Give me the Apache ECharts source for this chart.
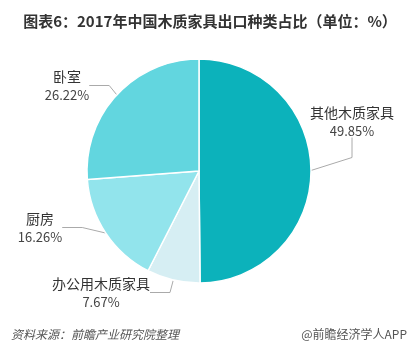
<!DOCTYPE html>
<html>
<head>
<meta charset="utf-8">
<script src="https://cdn.jsdelivr.net/npm/echarts@6/dist/echarts.min.js"></script>
<style>
  html, body { margin: 0; padding: 0; background: #fff; }
  #chart { width: 420px; height: 351px; }
</style>
</head>
<body>
<div id="chart"></div>
<script>
const categories = ['其他木质家具', '办公用木质家具', '厨房', '卧室']
const values = [49.85, 7.67, 16.26, 26.22]
const colors = ['#0cb2bb', '#d6eef3', '#92e4ec', '#62d6df']
// label anchor spots (center of the two-line label)
const labelSpots = [[352, 121], [101, 292], [40, 227], [67, 85]]

const chart = echarts.init(document.getElementById('chart'))

const option = {
  title: [
    {
      text: '图表6：2017年中国木质家具出口种类占比（单位：%）',
      left: 'center',
      top: 9,
      textStyle: { fontSize: 15, fontWeight: 'bold', color: '#333', fontFamily: 'Noto Sans CJK SC' }
    },
    {
      text: '资料来源：前瞻产业研究院整理',
      left: 6,
      top: 323,
      textStyle: { fontSize: 12, fontWeight: 'normal', fontStyle: 'italic', color: '#555', fontFamily: 'Noto Sans CJK SC' }
    },
    {
      text: '@前瞻经济学人APP',
      right: 8,
      top: 323,
      textStyle: { fontSize: 12, fontWeight: 'normal', color: '#555', fontFamily: 'Noto Sans CJK SC' }
    }
  ],
  series: [
    {
      type: 'pie',
      center: [199, 171],
      radius: 112,
      startAngle: 90,
      clockwise: true,
      itemStyle: { borderColor: '#fff', borderWidth: 1.5 },
      label: {
        formatter: '{n|{b}}\n{v|{c}%}',
        color: '#333',
        overflow: 'none',
        rich: {
          n: { fontSize: 14, color: '#333', lineHeight: 20, align: 'center', fontFamily: 'Noto Sans CJK SC' },
          v: { fontSize: 13, color: '#444', lineHeight: 17, align: 'center', fontFamily: 'Noto Sans CJK SC' }
        }
      },
      labelLine: {
        length: 12,
        length2: 20,
        lineStyle: { color: '#aaa', width: 1 }
      },
      labelLayout: function (params) {
        const p = labelSpots[params.dataIndex]
        return { x: p[0], y: p[1], align: 'center', verticalAlign: 'middle' }
      },
      data: categories.map((name, i) => ({
        name: name,
        value: values[i],
        itemStyle: { color: colors[i] }
      }))
    }
  ]
}

chart.setOption(option)
</script>
</body>
</html>
